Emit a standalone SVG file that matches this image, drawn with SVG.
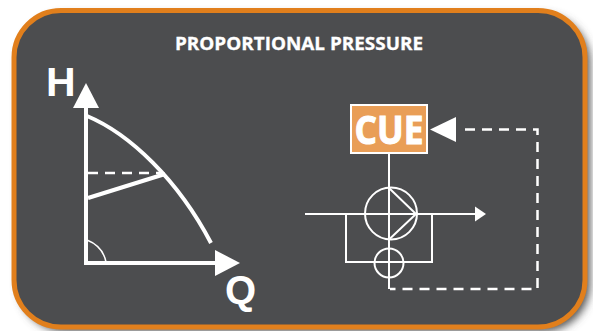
<svg xmlns="http://www.w3.org/2000/svg" width="593" height="331" viewBox="0 0 593 331">
<style>
.ln{fill:none;stroke:#fff;stroke-width:2}
.thk{fill:none;stroke:#fff;stroke-width:4}
.dash{fill:none;stroke:#fff;stroke-width:2.500;stroke-dasharray:10 7}
.ah{fill:#fff;stroke:none}
.t{fill:#fff;font-weight:700}
</style>
<defs>
<filter id="sh" x="-5%" y="-5%" width="110%" height="110%"><feGaussianBlur stdDeviation="4"/></filter>
</defs>
<rect x="0" y="0" width="593" height="331" fill="#fff"/>
<g id="panel">
<rect x="19" y="15" width="571" height="316.500" rx="47" fill="#555" filter="url(#sh)"/>
<rect x="14" y="10.500" width="571" height="316.500" rx="47" fill="#4c4d4f" stroke="#e17f1c" stroke-width="5"/>
<text class="t" x="299" y="50" text-anchor="middle" font-family="'Open Sans',sans-serif" font-size="17.500" stroke="#fff" stroke-width="0.300" textLength="248" lengthAdjust="spacingAndGlyphs">PROPORTIONAL PRESSURE</text>
</g>
<g id="chart">
<path class="thk" d="M86 108V263H216"/>
<polygon class="ah" points="86,83 99,108 73,108"/>
<polygon class="ah" points="240,263 215,250 215,276"/>
<path class="thk" d="M87 116C130 134 178 180 211 243"/>
<path class="dash" d="M88 173H163" stroke-dasharray="9 6" stroke-width="2"/>
<path class="thk" d="M88 198L165 174"/>
<path fill="none" stroke="#fff" stroke-width="1.500" d="M87 240C97 244 104 252 106 262"/>
<text class="t" x="46" y="96" font-family="'Liberation Sans',sans-serif" font-size="41">H</text>
<text class="t" x="225" y="304" font-family="'Liberation Sans',sans-serif" font-size="40">Q</text>
</g>
<g id="connectors">
<path class="ln" d="M389 153V289" stroke-width="2.500"/>
<path class="dash" d="M465 129.500H537.500V289H390"/>
<polygon class="ah" points="430,129.500 456,117 456,142"/>
<path class="ln" d="M305 214H476"/>
<polygon class="ah" points="486,214 475,206.500 475,221.500"/>
<path class="ln" d="M346 214V262H432V214"/>
</g>
<g id="pump">
<circle class="ln" cx="391" cy="213.500" r="26"/>
<path class="ln" d="M389 188L416 214L389 239.500"/>
</g>
<g id="valve">
<circle class="ln" cx="389" cy="263" r="14.500"/>
</g>
<g id="cue">
<rect x="351" y="105" width="76" height="48" fill="#e99e57" stroke="#fff" stroke-width="2"/>
<text class="t" x="389" y="143.500" text-anchor="middle" font-family="'Open Sans',sans-serif" font-size="40" stroke="#fff" stroke-width="1" textLength="69" lengthAdjust="spacingAndGlyphs">CUE</text>
</g>
</svg>
